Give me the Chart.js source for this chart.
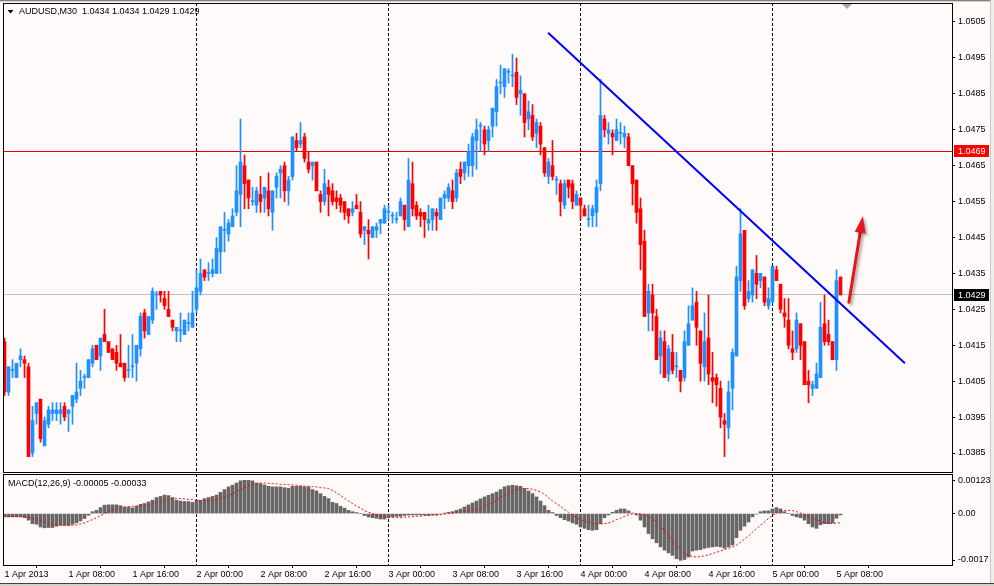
<!DOCTYPE html>
<html><head><meta charset="utf-8">
<script src="https://cdn.jsdelivr.net/npm/chart.js@4.4.0/dist/chart.umd.min.js"></script>
<style>
html,body{margin:0;padding:0;background:#FFFAFA;overflow:hidden}
#wrap{position:relative;width:994px;height:586px}
canvas{position:absolute;left:0;top:0}
</style></head><body>
<div id="wrap"><canvas id="c1" width="994" height="586"></canvas><canvas id="c2" width="994" height="586"></canvas></div>
<script>
// ---------- DATA ----------
const symbolTitle = 'AUDUSD,M30';
const lastOHLC = ['1.0434', '1.0434', '1.0429', '1.0429'];
const opens = [
1.0416,1.0402,1.0408,1.0406,1.0411,1.0411,1.0409,1.0385,1.0396,1.0400,
1.0387,1.0393,1.0396,1.0396,1.0396,1.0398,1.0396,1.0398,1.0400,1.0403,
1.0406,1.0406,1.0410,1.0415,1.0412,1.0418,1.0416,1.0414,1.0413,1.0410,
1.0410,1.0408,1.0409,1.0410,1.0414,1.0424,1.0418,1.0422,1.0429,1.0430,
1.0428,1.0425,1.0422,1.0419,1.0419,1.0418,1.0421,1.0420,1.0425,1.0430,
1.0436,1.0435,1.0435,1.0435,1.0441,1.0447,1.0446,1.0448,1.0452,1.0457,
1.0465,1.0461,1.0455,1.0454,1.0457,1.0456,1.0458,1.0452,1.0459,1.0463,
1.0465,1.0458,1.0462,1.0472,1.0471,1.0473,1.0466,1.0465,1.0466,1.0457,
1.0455,1.0459,1.0458,1.0456,1.0456,1.0455,1.0453,1.0452,1.0454,1.0452,
1.0447,1.0447,1.0445,1.0447,1.0449,1.0449,1.0452,1.0451,1.0450,1.0451,
1.0454,1.0448,1.0460,1.0454,1.0452,1.0452,1.0449,1.0450,1.0452,1.0450,
1.0456,1.0456,1.0458,1.0456,1.0464,1.0463,1.0465,1.0465,1.0472,1.0476,
1.0475,1.0472,1.0476,1.0480,1.0488,1.0487,1.0491,1.0490,1.0491,1.0485,
1.0485,1.0478,1.0479,1.0474,1.0476,1.0470,1.0462,1.0465,1.0461,1.0460,
1.0454,1.0461,1.0460,1.0454,1.0456,1.0453,1.0450,1.0451,1.0452,1.0460,
1.0478,1.0474,1.0474,1.0472,1.0474,1.0473,1.0473,1.0465,1.0461,1.0453,
1.0444,1.0424,1.0429,1.0423,1.0412,1.0416,1.0407,1.0413,1.0409,1.0408,
1.0406,1.0415,1.0422,1.0427,1.0419,1.0409,1.0417,1.0406,1.0406,1.0403,
1.0394,1.0392,1.0403,1.0412,1.0433,1.0447,1.0428,1.0429,1.0435,1.0433,
1.0434,1.0426,1.0427,1.0436,1.0432,1.0424,1.0422,1.0414,1.0414,1.0421,
1.0416,1.0405,1.0403,1.0403,1.0406,1.0421,1.0418,1.0416,1.0411,1.0434];
const highs = [
1.0417,1.0409,1.0411,1.0410,1.0414,1.0412,1.0410,1.0398,1.0399,1.0400,
1.0395,1.0398,1.0399,1.0399,1.0399,1.0399,1.0397,1.0401,1.0410,1.0408,
1.0407,1.0411,1.0415,1.0415,1.0417,1.0425,1.0416,1.0414,1.0415,1.0418,
1.0410,1.0415,1.0418,1.0415,1.0424,1.0425,1.0423,1.0431,1.0430,1.0430,
1.0430,1.0430,1.0422,1.0420,1.0424,1.0422,1.0424,1.0430,1.0436,1.0439,
1.0436,1.0438,1.0439,1.0445,1.0448,1.0452,1.0450,1.0453,1.0465,1.0478,
1.0468,1.0461,1.0459,1.0459,1.0462,1.0459,1.0463,1.0458,1.0463,1.0465,
1.0466,1.0462,1.0473,1.0474,1.0477,1.0474,1.0469,1.0466,1.0466,1.0458,
1.0464,1.0461,1.0460,1.0458,1.0457,1.0455,1.0453,1.0455,1.0457,1.0455,
1.0448,1.0450,1.0448,1.0449,1.0450,1.0454,1.0454,1.0452,1.0452,1.0456,
1.0454,1.0467,1.0466,1.0455,1.0453,1.0452,1.0454,1.0453,1.0453,1.0456,
1.0458,1.0460,1.0461,1.0464,1.0466,1.0466,1.0471,1.0474,1.0478,1.0477,
1.0476,1.0476,1.0481,1.0489,1.0493,1.0492,1.0492,1.0496,1.0495,1.0490,
1.0485,1.0483,1.0482,1.0478,1.0477,1.0470,1.0467,1.0472,1.0462,1.0461,
1.0461,1.0461,1.0461,1.0458,1.0456,1.0454,1.0454,1.0454,1.0461,1.0489,
1.0479,1.0477,1.0475,1.0478,1.0477,1.0476,1.0474,1.0465,1.0461,1.0456,
1.0447,1.0432,1.0432,1.0425,1.0419,1.0419,1.0415,1.0418,1.0413,1.0408,
1.0419,1.0426,1.0431,1.0430,1.0419,1.0424,1.0429,1.0413,1.0407,1.0405,
1.0396,1.0405,1.0414,1.0437,1.0453,1.0447,1.0433,1.0436,1.0440,1.0435,
1.0434,1.0431,1.0437,1.0437,1.0432,1.0428,1.0428,1.0419,1.0424,1.0421,
1.0416,1.0408,1.0405,1.0410,1.0427,1.0429,1.0422,1.0416,1.0436,1.0434];
const lows = [
1.0401,1.0401,1.0406,1.0406,1.0409,1.0406,1.0384,1.0384,1.0393,1.0388,
1.0387,1.0392,1.0394,1.0394,1.0393,1.0394,1.0391,1.0393,1.0399,1.0401,
1.0403,1.0406,1.0409,1.0411,1.0408,1.0416,1.0413,1.0411,1.0408,1.0409,
1.0405,1.0406,1.0406,1.0405,1.0412,1.0417,1.0418,1.0421,1.0425,1.0427,
1.0425,1.0423,1.0419,1.0416,1.0416,1.0418,1.0419,1.0420,1.0424,1.0429,
1.0433,1.0433,1.0434,1.0435,1.0435,1.0441,1.0444,1.0448,1.0451,1.0448,
1.0453,1.0453,1.0454,1.0452,1.0452,1.0452,1.0451,1.0447,1.0456,1.0456,
1.0455,1.0454,1.0461,1.0469,1.0470,1.0466,1.0463,1.0461,1.0458,1.0452,
1.0454,1.0451,1.0454,1.0453,1.0452,1.0450,1.0449,1.0451,1.0453,1.0445,
1.0443,1.0439,1.0445,1.0445,1.0446,1.0449,1.0450,1.0449,1.0449,1.0451,
1.0447,1.0448,1.0451,1.0450,1.0448,1.0445,1.0447,1.0447,1.0447,1.0450,
1.0453,1.0455,1.0453,1.0455,1.0460,1.0461,1.0462,1.0462,1.0464,1.0469,
1.0468,1.0469,1.0473,1.0476,1.0485,1.0484,1.0488,1.0487,1.0482,1.0479,
1.0473,1.0475,1.0472,1.0470,1.0468,1.0462,1.0460,1.0461,1.0457,1.0451,
1.0453,1.0456,1.0453,1.0454,1.0450,1.0451,1.0448,1.0448,1.0448,1.0458,
1.0473,1.0471,1.0468,1.0472,1.0471,1.0470,1.0465,1.0454,1.0449,1.0436,
1.0423,1.0419,1.0419,1.0411,1.0407,1.0406,1.0405,1.0407,1.0406,1.0402,
1.0405,1.0415,1.0422,1.0415,1.0405,1.0405,1.0404,1.0399,1.0398,1.0392,
1.0384,1.0389,1.0397,1.0412,1.0430,1.0425,1.0427,1.0427,1.0428,1.0431,
1.0426,1.0425,1.0427,1.0433,1.0424,1.0420,1.0414,1.0411,1.0413,1.0411,
1.0404,1.0399,1.0401,1.0403,1.0406,1.0415,1.0415,1.0411,1.0408,1.0429];
const closes = [
1.0402,1.0409,1.0408,1.0410,1.0412,1.0410,1.0384,1.0394,1.0399,1.0389,
1.0394,1.0397,1.0397,1.0397,1.0397,1.0395,1.0397,1.0401,1.0402,1.0405,
1.0406,1.0411,1.0414,1.0411,1.0417,1.0416,1.0413,1.0411,1.0410,1.0409,
1.0406,1.0408,1.0409,1.0415,1.0423,1.0419,1.0423,1.0430,1.0429,1.0429,
1.0426,1.0423,1.0420,1.0420,1.0419,1.0422,1.0421,1.0424,1.0431,1.0435,
1.0434,1.0435,1.0436,1.0442,1.0448,1.0447,1.0449,1.0451,1.0458,1.0466,
1.0460,1.0456,1.0455,1.0458,1.0455,1.0459,1.0453,1.0458,1.0462,1.0464,
1.0458,1.0461,1.0473,1.0470,1.0472,1.0467,1.0464,1.0466,1.0458,1.0455,
1.0460,1.0457,1.0455,1.0455,1.0454,1.0452,1.0451,1.0453,1.0453,1.0446,
1.0448,1.0446,1.0448,1.0448,1.0450,1.0453,1.0452,1.0451,1.0450,1.0455,
1.0450,1.0461,1.0453,1.0451,1.0451,1.0450,1.0450,1.0453,1.0451,1.0456,
1.0457,1.0459,1.0455,1.0463,1.0462,1.0466,1.0469,1.0473,1.0475,1.0476,
1.0471,1.0475,1.0481,1.0487,1.0488,1.0492,1.0491,1.0490,1.0484,1.0486,
1.0477,1.0480,1.0473,1.0477,1.0471,1.0463,1.0466,1.0462,1.0461,1.0455,
1.0460,1.0459,1.0455,1.0457,1.0454,1.0451,1.0450,1.0453,1.0459,1.0479,
1.0475,1.0475,1.0473,1.0475,1.0474,1.0474,1.0465,1.0460,1.0452,1.0443,
1.0423,1.0430,1.0424,1.0411,1.0417,1.0406,1.0414,1.0408,1.0409,1.0405,
1.0416,1.0421,1.0426,1.0420,1.0410,1.0416,1.0407,1.0405,1.0404,1.0395,
1.0393,1.0402,1.0413,1.0434,1.0446,1.0426,1.0430,1.0436,1.0432,1.0435,
1.0427,1.0428,1.0437,1.0433,1.0425,1.0423,1.0415,1.0413,1.0422,1.0415,
1.0404,1.0404,1.0404,1.0407,1.0420,1.0416,1.0416,1.0411,1.0433,1.0429];
const macdHist = [
-0.00012,-0.00012,-0.00012,-0.00012,-0.00012,-0.00015,-0.00024,-0.00037,-0.00039,-0.00049,
-0.00052,-0.00051,-0.00051,-0.00046,-0.00043,-0.00043,-0.00043,-0.00039,-0.00034,-0.00027,
-0.00018,-0.00006,0.00007,0.00012,0.00022,0.00031,0.00032,0.00032,0.00032,0.00029,
0.00024,0.00024,0.00021,0.00027,0.00034,0.00037,0.00043,0.00049,0.00059,0.00063,
0.00068,0.00066,0.00059,0.00049,0.00046,0.00044,0.00044,0.00041,0.00049,0.00049,
0.00055,0.00059,0.00063,0.00068,0.00078,0.00088,0.00098,0.00104,0.00112,0.00120,
0.00122,0.00122,0.00120,0.00112,0.00110,0.00105,0.00100,0.00098,0.00098,0.00098,
0.00095,0.00093,0.00100,0.00100,0.00100,0.00098,0.00098,0.00088,0.00083,0.00073,
0.00063,0.00055,0.00041,0.00037,0.00027,0.00020,0.00012,0.00007,0.00004,0.00000,
-0.00007,-0.00012,-0.00015,-0.00017,-0.00020,-0.00020,-0.00015,-0.00012,-0.00010,-0.00010,
-0.00007,-0.00005,-0.00005,-0.00005,-0.00005,-0.00005,-0.00007,-0.00005,-0.00005,-0.00002,
0.00001,0.00005,0.00007,0.00012,0.00017,0.00024,0.00032,0.00039,0.00046,0.00054,
0.00061,0.00067,0.00073,0.00079,0.00088,0.00098,0.00102,0.00104,0.00102,0.00100,
0.00092,0.00083,0.00073,0.00061,0.00046,0.00029,0.00012,0.00004,-0.00007,-0.00015,
-0.00022,-0.00027,-0.00034,-0.00039,-0.00049,-0.00054,-0.00059,-0.00061,-0.00059,-0.00037,
-0.00015,-0.00005,0.00005,0.00012,0.00017,0.00017,0.00010,0.00002,-0.00005,-0.00024,
-0.00049,-0.00073,-0.00092,-0.00107,-0.00122,-0.00134,-0.00144,-0.00153,-0.00165,-0.00171,
-0.00168,-0.00159,-0.00137,-0.00134,-0.00132,-0.00127,-0.00124,-0.00122,-0.00120,-0.00122,
-0.00127,-0.00122,-0.00115,-0.00088,-0.00061,-0.00046,-0.00031,-0.00012,-0.00002,0.00007,
0.00010,0.00010,0.00017,0.00022,0.00017,0.00007,0.00000,-0.00007,-0.00012,-0.00015,
-0.00024,-0.00037,-0.00049,-0.00054,-0.00041,-0.00037,-0.00037,-0.00034,-0.00017,-0.00005];
const macdSignal = [
-0.00010,-0.00010,-0.00010,-0.00010,-0.00010,-0.00011,-0.00013,-0.00017,-0.00022,-0.00027,
-0.00031,-0.00035,-0.00039,-0.00040,-0.00041,-0.00043,-0.00043,-0.00043,-0.00041,-0.00038,
-0.00034,-0.00028,-0.00022,-0.00015,-0.00007,0.00000,0.00007,0.00013,0.00018,0.00022,
0.00024,0.00026,0.00027,0.00028,0.00029,0.00031,0.00033,0.00037,0.00040,0.00044,
0.00048,0.00051,0.00054,0.00055,0.00055,0.00054,0.00052,0.00051,0.00049,0.00048,
0.00048,0.00049,0.00050,0.00051,0.00056,0.00061,0.00067,0.00073,0.00081,0.00088,
0.00095,0.00101,0.00106,0.00110,0.00112,0.00112,0.00111,0.00110,0.00109,0.00107,
0.00107,0.00106,0.00105,0.00104,0.00102,0.00101,0.00100,0.00099,0.00098,0.00095,
0.00094,0.00092,0.00085,0.00076,0.00067,0.00056,0.00046,0.00037,0.00028,0.00020,
0.00011,0.00005,0.00000,-0.00005,-0.00009,-0.00011,-0.00012,-0.00013,-0.00015,-0.00015,
-0.00013,-0.00012,-0.00011,-0.00010,-0.00009,-0.00007,-0.00007,-0.00005,-0.00005,-0.00004,
-0.00002,0.00000,0.00002,0.00005,0.00006,0.00009,0.00010,0.00012,0.00016,0.00021,
0.00027,0.00033,0.00040,0.00049,0.00059,0.00067,0.00076,0.00083,0.00088,0.00090,
0.00092,0.00092,0.00089,0.00085,0.00079,0.00071,0.00059,0.00046,0.00037,0.00027,
0.00015,0.00005,-0.00005,-0.00015,-0.00022,-0.00028,-0.00033,-0.00037,-0.00038,-0.00038,
-0.00037,-0.00034,-0.00029,-0.00022,-0.00017,-0.00010,-0.00005,-0.00001,0.00000,-0.00001,
-0.00004,-0.00010,-0.00018,-0.00031,-0.00046,-0.00063,-0.00081,-0.00098,-0.00116,-0.00132,
-0.00144,-0.00153,-0.00157,-0.00159,-0.00157,-0.00155,-0.00151,-0.00146,-0.00142,-0.00137,
-0.00132,-0.00127,-0.00122,-0.00115,-0.00105,-0.00094,-0.00082,-0.00068,-0.00055,-0.00043,
-0.00031,-0.00018,-0.00006,0.00002,0.00009,0.00011,0.00012,0.00011,0.00007,0.00002,
-0.00004,-0.00010,-0.00017,-0.00023,-0.00028,-0.00033,-0.00035,-0.00037,-0.00035,-0.00033];
const timeTickIndex = [0,16,32,48,64,80,96,112,128,144,160,176,192,208];
const timeTickLabels = ['1 Apr 2013','1 Apr 08:00','1 Apr 16:00','2 Apr 00:00','2 Apr 08:00','2 Apr 16:00',
  '3 Apr 00:00','3 Apr 08:00','3 Apr 16:00','4 Apr 00:00','4 Apr 08:00','4 Apr 16:00','5 Apr 00:00','5 Apr 08:00'];
const daySeparators = [48,96,144,192];
const priceTicks = [1.0385,1.0395,1.0405,1.0415,1.0425,1.0435,1.0445,1.0455,1.0465,1.0475,1.0485,1.0495,1.0505];
const macdTicks = [0.00123, 0, -0.0017];
const macdTickLabels = ['0.00123', '0.00', '-0.0017'];
const macdTitle = 'MACD(12,26,9)';
const macdLast = ['-0.00005', '-0.00033'];
const hLineRed = 1.0469;
const bidLine = 1.0429;
const trendX = [135.9, 225.1];
const trendY = [1.0502, 1.0410];
const arrowX = [211.1, 214.6];
const arrowY = [1.0427, 1.0451];

// ---------- STYLE / LAYOUT ----------
const xMin = -0.375, xMax = 236.875;
const priceMin = 1.037971, priceMax = 1.051029;
const macdMin = -0.001883, macdMax = 0.001451;
const bull = '#1E90FF', bear = '#FF0000';
const FONT = '"Liberation Sans", Arial, sans-serif';
const fnt = {family: FONT, size: 9};
const idx = closes.map((_, i) => i);
const candleColors = idx.map(i => closes[i] < opens[i] ? bear : bull);

function dashedSeps(chart) {
  const {ctx, chartArea: a, scales: {x}} = chart;
  ctx.save();
  ctx.strokeStyle = '#000'; ctx.lineWidth = 1; ctx.setLineDash([3, 2]);
  daySeparators.forEach(v => {
    const xp = Math.floor(x.getPixelForValue(v)) + 0.5;
    ctx.beginPath(); ctx.moveTo(xp, a.top); ctx.lineTo(xp, a.bottom); ctx.stroke();
  });
  ctx.restore();
}
function boxLabel(ctx, yp, text, bg) {
  ctx.fillStyle = bg; ctx.fillRect(954, Math.round(yp) - 6, 35, 12);
  ctx.fillStyle = '#FFFFFF'; ctx.font = '9px ' + FONT; ctx.textBaseline = 'middle'; ctx.textAlign = 'left';
  ctx.fillText(text, 958, Math.round(yp) + 0.5);
}

const mainPlugin = {
  id: 'mainPlugin',
  beforeDraw(chart) {
    const ctx = chart.ctx;
    ctx.save();
    ctx.fillStyle = '#FFFAFA'; ctx.fillRect(0, 0, 994, 586);
    ctx.fillStyle = '#D4D0C8'; ctx.fillRect(0, 0, 994, 2);
    ctx.fillStyle = '#808080'; ctx.fillRect(0, 0, 994, 1);
    ctx.fillStyle = '#C8C8C8'; ctx.fillRect(990, 0, 1, 586);
    ctx.fillStyle = '#F0EEE8'; ctx.fillRect(991, 0, 3, 586);
    ctx.fillStyle = '#404040'; ctx.fillRect(0, 583, 994, 1);
    ctx.fillStyle = '#D4D0C8'; ctx.fillRect(0, 584, 994, 2);
    ctx.restore();
  },
  beforeDatasetsDraw(chart) {
    const {ctx, chartArea: a, scales: {y}} = chart;
    dashedSeps(chart);
    ctx.save();
    ctx.lineWidth = 1;
    const yr = Math.floor(y.getPixelForValue(hLineRed)) + 0.5;
    ctx.strokeStyle = '#E00000'; ctx.beginPath(); ctx.moveTo(a.left, yr); ctx.lineTo(a.right, yr); ctx.stroke();
    const yb = Math.floor(y.getPixelForValue(bidLine)) + 0.5;
    ctx.strokeStyle = '#C0C0C0'; ctx.beginPath(); ctx.moveTo(a.left, yb); ctx.lineTo(a.right, yb); ctx.stroke();
    ctx.restore();
  },
  afterDatasetsDraw(chart) {
    const {ctx, scales: {x, y}} = chart;
    const x0 = x.getPixelForValue(arrowX[0]), y0 = y.getPixelForValue(arrowY[0]);
    const x1 = x.getPixelForValue(arrowX[1]), y1 = y.getPixelForValue(arrowY[1]);
    const ang = Math.atan2(y1 - y0, x1 - x0);
    const hl = 17, hw = 5.5;
    const bx = x1 - hl * Math.cos(ang), by = y1 - hl * Math.sin(ang);
    ctx.save();
    ctx.shadowColor = 'rgba(0,0,0,0.35)'; ctx.shadowBlur = 3; ctx.shadowOffsetX = 2; ctx.shadowOffsetY = 2;
    ctx.strokeStyle = '#E8141C'; ctx.lineWidth = 3; ctx.lineCap = 'round';
    ctx.beginPath(); ctx.moveTo(x0, y0); ctx.lineTo(bx, by); ctx.stroke();
    ctx.fillStyle = '#E8141C';
    ctx.beginPath(); ctx.moveTo(x1, y1);
    ctx.lineTo(bx + hw * Math.sin(ang), by - hw * Math.cos(ang));
    ctx.lineTo(bx - hw * Math.sin(ang), by + hw * Math.cos(ang));
    ctx.closePath(); ctx.fill();
    ctx.restore();
  },
  afterDraw(chart) {
    const {ctx, chartArea: a, scales: {y}} = chart;
    ctx.save();
    ctx.strokeStyle = '#000'; ctx.lineWidth = 1;
    ctx.strokeRect(a.left + 0.5, a.top + 0.5, a.right - a.left, a.bottom - a.top);
    boxLabel(ctx, y.getPixelForValue(hLineRed), hLineRed.toFixed(4), '#FF0000');
    boxLabel(ctx, y.getPixelForValue(bidLine), bidLine.toFixed(4), '#000000');
    // title
    ctx.fillStyle = '#000';
    ctx.beginPath(); ctx.moveTo(7.5, 10); ctx.lineTo(13.5, 10); ctx.lineTo(10.5, 13.5); ctx.closePath(); ctx.fill();
    ctx.font = '9px ' + FONT; ctx.textBaseline = 'middle'; ctx.textAlign = 'left';
    ctx.fillText(symbolTitle + '  ' + lastOHLC.join(' '), 19, 12);
    // chart shift marker
    ctx.fillStyle = '#A8A8A8';
    ctx.beginPath(); ctx.moveTo(842, 4); ctx.lineTo(852, 4); ctx.lineTo(847, 9); ctx.closePath(); ctx.fill();
    ctx.restore();
  }
};

const macdPlugin = {
  id: 'macdPlugin',
  beforeDatasetsDraw(chart) { dashedSeps(chart); },
  afterDraw(chart) {
    const {ctx, chartArea: a} = chart;
    ctx.save();
    ctx.strokeStyle = '#000'; ctx.lineWidth = 1;
    ctx.strokeRect(a.left + 0.5, a.top + 0.5, a.right - a.left, a.bottom - a.top);
    ctx.fillStyle = '#000'; ctx.font = '9px ' + FONT; ctx.textBaseline = 'middle'; ctx.textAlign = 'left';
    ctx.fillText(macdTitle + ' ' + macdLast.join(' '), 8, 484);
    ctx.restore();
  }
};

const xTicksSet = s => { s.ticks = timeTickIndex.map(v => ({value: v})); };

// ---------- MAIN PRICE CHART ----------
new Chart(document.getElementById('c1'), {
  type: 'bar',
  data: {
    datasets: [
      {type: 'line', data: [{x: trendX[0], y: trendY[0]}, {x: trendX[1], y: trendY[1]}],
       borderColor: '#0000FF', borderWidth: 2, pointRadius: 0, order: 0, clip: false},
      {type: 'bar', data: idx.map(i => ({x: i, y: [opens[i], closes[i]]})),
       backgroundColor: candleColors, barThickness: 3, minBarLength: 1, grouped: false, borderWidth: 0, order: 1},
      {type: 'bar', data: idx.map(i => ({x: i, y: [lows[i], highs[i]]})),
       backgroundColor: candleColors, barThickness: 1, grouped: false, borderWidth: 0, order: 2}
    ]
  },
  options: {
    animation: false, responsive: false, devicePixelRatio: 1,
    layout: {padding: {left: 3, top: 3, right: 0, bottom: 114}},
    plugins: {legend: {display: false}, tooltip: {enabled: false}},
    scales: {
      x: {type: 'linear', min: xMin, max: xMax, offset: false,
          afterBuildTicks: xTicksSet,
          afterFit: s => { s.height = 0; s.paddingLeft = 0; s.paddingRight = 0; },
          ticks: {display: false}, border: {display: false},
          grid: {display: false}},
      y: {type: 'linear', position: 'right', min: priceMin, max: priceMax,
          afterBuildTicks: s => { s.ticks = priceTicks.map(v => ({value: v})); },
          afterFit: s => { s.width = 42; s.paddingTop = 0; s.paddingBottom = 0; },
          ticks: {callback: v => v.toFixed(4), padding: 3, color: '#000', font: fnt, autoSkip: false},
          grid: {drawOnChartArea: false, tickLength: 3, tickColor: '#000', tickBorderDash: []},
          border: {display: false}}
    }
  },
  plugins: [mainPlugin]
});

// ---------- MACD CHART ----------
new Chart(document.getElementById('c2'), {
  type: 'bar',
  data: {
    datasets: [
      {type: 'line', data: idx.map(i => ({x: i, y: macdSignal[i]})),
       borderColor: '#FF0000', borderWidth: 1, borderDash: [2, 2], pointRadius: 0, order: 0},
      {type: 'bar', data: idx.map(i => ({x: i, y: macdHist[i]})),
       backgroundColor: '#666666', barThickness: 3, grouped: false, borderWidth: 0, order: 1}
    ]
  },
  options: {
    animation: false, responsive: false, devicePixelRatio: 1,
    layout: {padding: {left: 3, top: 474, right: 0, bottom: 0}},
    plugins: {legend: {display: false}, tooltip: {enabled: false}},
    scales: {
      x: {type: 'linear', min: xMin, max: xMax, offset: false,
          afterBuildTicks: xTicksSet,
          afterFit: s => { s.height = 21; s.paddingLeft = 0; s.paddingRight = 0; },
          ticks: {align: 'start', autoSkip: false, maxRotation: 0, minRotation: 0, padding: 1,
                  color: '#000', font: fnt, callback: (v, i) => timeTickLabels[i]},
          grid: {drawOnChartArea: false, tickLength: 3, tickColor: '#000', tickBorderDash: []},
          border: {display: false}},
      y: {type: 'linear', position: 'right', min: macdMin, max: macdMax,
          afterBuildTicks: s => { s.ticks = macdTicks.map(v => ({value: v})); },
          afterFit: s => { s.width = 42; s.paddingTop = 0; s.paddingBottom = 0; },
          ticks: {callback: (v, i) => macdTickLabels[i], padding: 3, color: '#000', font: fnt, autoSkip: false},
          grid: {drawOnChartArea: false, tickLength: 3, tickColor: '#000', tickBorderDash: []},
          border: {display: false}}
    }
  },
  plugins: [macdPlugin]
});
</script>
</body></html>
